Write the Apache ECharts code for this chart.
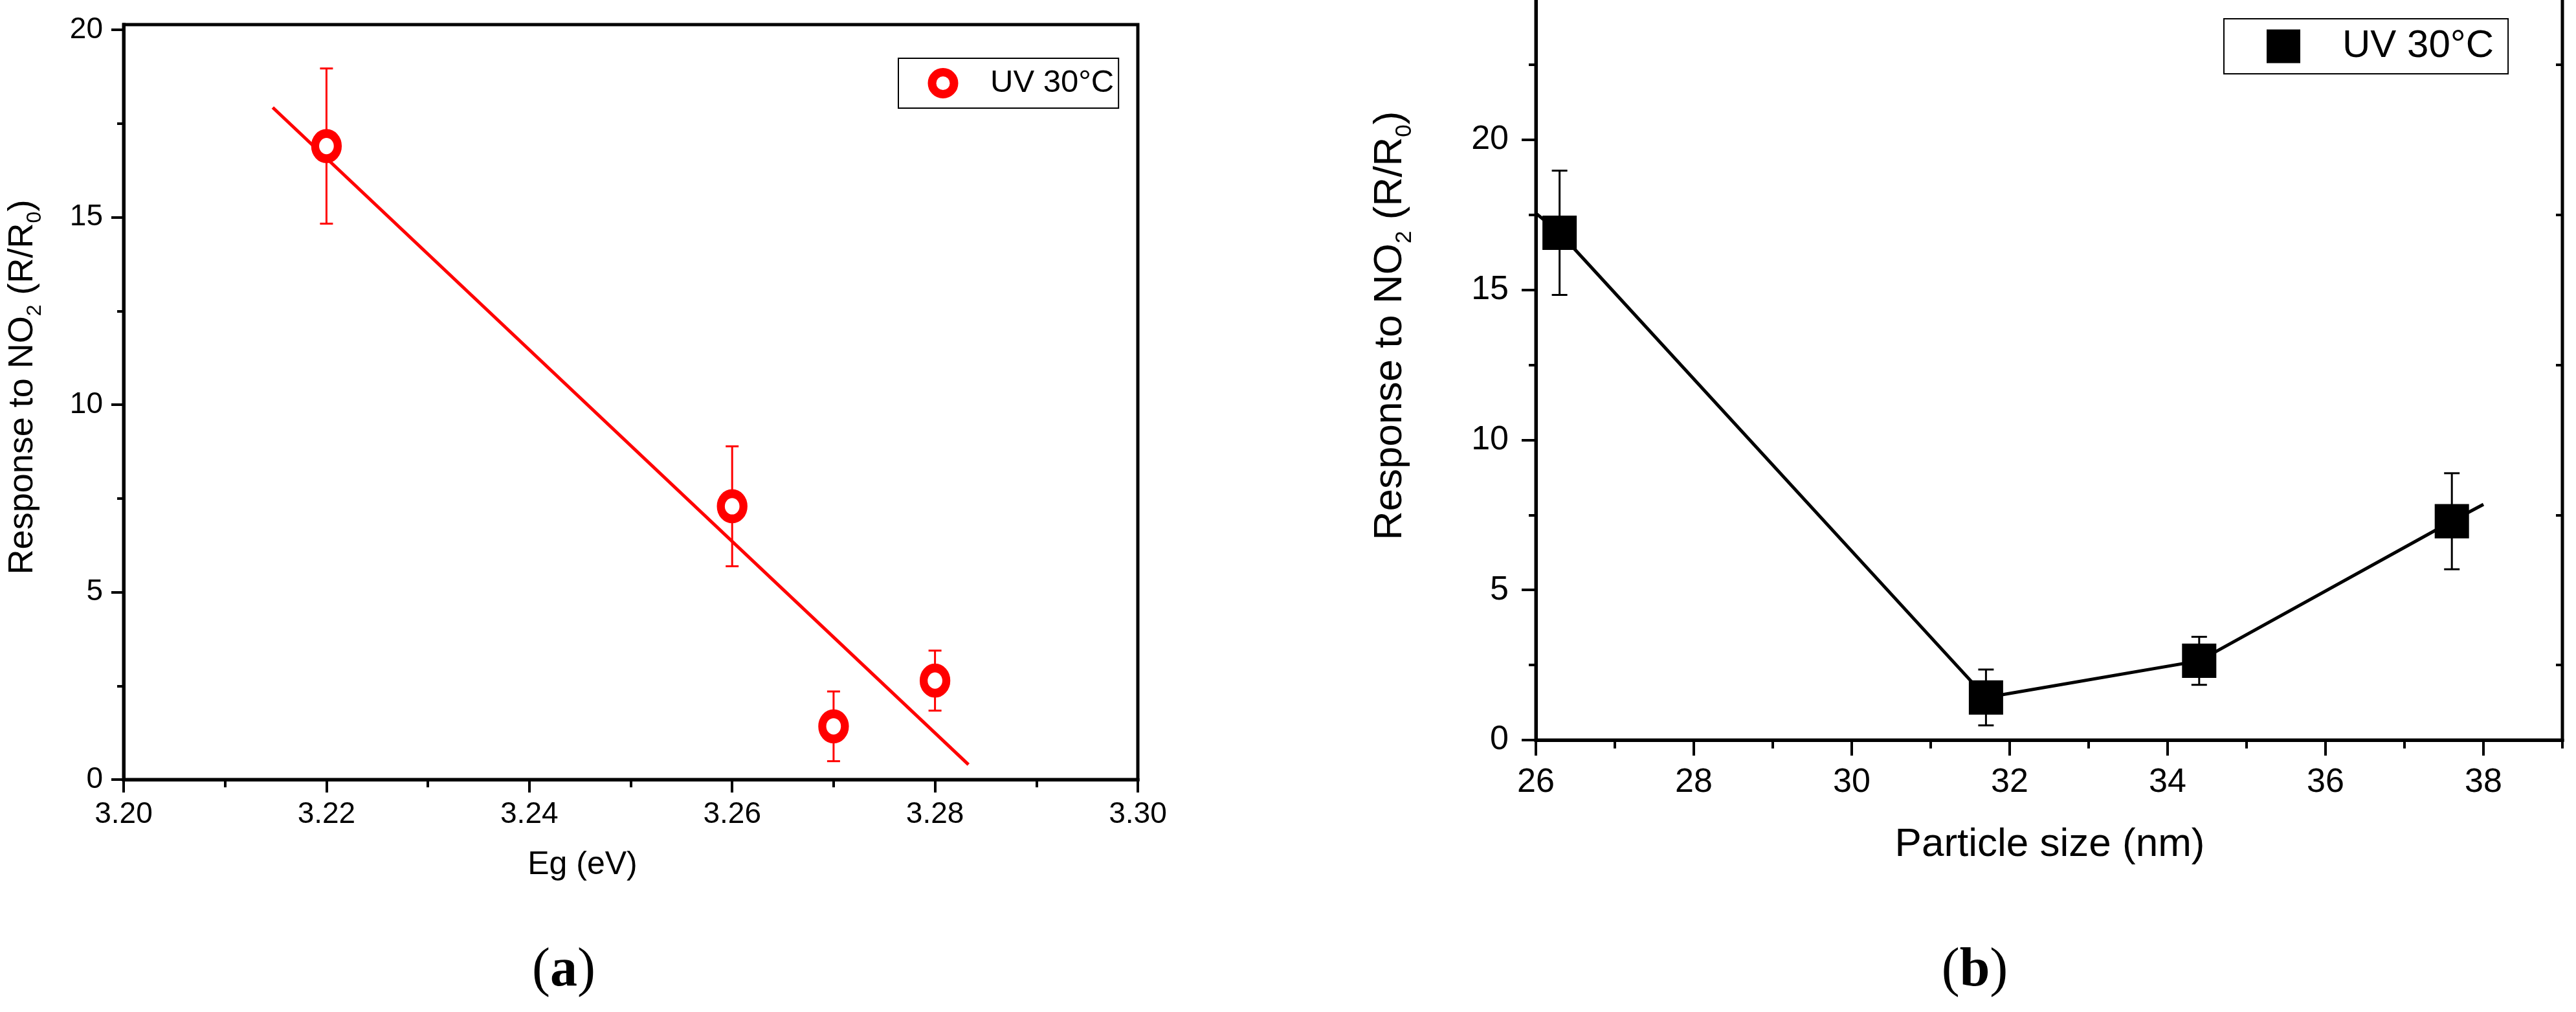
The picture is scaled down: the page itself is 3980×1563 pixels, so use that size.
<!DOCTYPE html>
<html>
<head>
<meta charset="utf-8">
<title>Response to NO2 vs Eg and particle size</title>
<script src="https://cdn.jsdelivr.net/npm/echarts@6/dist/echarts.min.js"></script>
<style>
html, body { margin: 0; padding: 0; background: #fff; }
#chart { width: 3980px; height: 1563px; }
</style>
</head>
<body>
<div id="chart"></div>
<script>
// samples (same films in both panels)
const bandGap = [3.22, 3.26, 3.27, 3.28];        // Eg (eV)
const particleSize = [26.3, 37.6, 31.7, 34.4];   // nm
const response = [16.9, 7.29, 1.42, 2.64];       // R/R0
const responseErr = [2.07, 1.6, 0.93, 0.8];

// linear fit of panel (a), end points
const fitEg = [3.2147, 3.2833];
const fitResponse = [17.93, 0.40];

// guide line of panel (b), ordered by particle size
const lineSize = [26.0, 26.3, 31.7, 34.4, 37.6, 38.0];
const lineResponse = [17.55, 16.9, 1.42, 2.64, 7.29, 7.85];

// ticks
const egTicks = [3.20, 3.22, 3.24, 3.26, 3.28, 3.30];
const egMinor = [3.21, 3.23, 3.25, 3.27, 3.29];
const respTicksA = [0, 5, 10, 15, 20];
const respMinorA = [2.5, 7.5, 12.5, 17.5];
const sizeTicks = [26, 28, 30, 32, 34, 36, 38];
const sizeMinor = [27, 29, 31, 33, 35, 37, 39];
const respTicksB = [0, 5, 10, 15, 20, 25];
const respMinorB = [2.5, 7.5, 12.5, 17.5, 22.5];

const legendName = 'UV 30°C';
const FONT = 'Liberation Sans, Arial, sans-serif';
const RED = '#ff0000';

const chart = echarts.init(document.getElementById('chart'));

const line = { color: '#000', width: 5, cap: 'square' };
const tick = { color: '#000', width: 4 };

function mainAxis(gridIndex, position, min, max, ticks, tickLen, fontSize, margin, fmt) {
  return {
    type: 'value', gridIndex, position, min, max,
    axisLine: { show: true, onZero: false, lineStyle: line },
    axisTick: { show: true, customValues: ticks, length: tickLen, lineStyle: tick },
    axisLabel: {
      customValues: ticks, fontSize, margin, color: '#000', fontFamily: FONT,
      formatter: fmt || (v => String(v))
    },
    splitLine: { show: false }
  };
}
// ticks only (minor ticks, inward ticks of the right frame)
function tickAxis(gridIndex, position, min, max, ticks, tickLen, inside) {
  return {
    type: 'value', gridIndex, position, min, max,
    axisLine: { show: false, onZero: false },
    axisTick: { show: true, inside: !!inside, customValues: ticks, length: tickLen, lineStyle: tick },
    axisLabel: { show: false },
    splitLine: { show: false }
  };
}

function errorBars(xs, color, halfCap, xi, yi) {
  return {
    type: 'custom', xAxisIndex: xi, yAxisIndex: yi, z: 3, silent: true,
    data: xs.map((x, i) => [x, response[i], responseErr[i]]),
    encode: { x: 0, y: 1 },
    renderItem(params, api) {
      const x = api.value(0), y = api.value(1), e = api.value(2);
      const top = api.coord([x, y + e]);
      const bot = api.coord([x, y - e]);
      const style = { stroke: color, lineWidth: 3 };
      return {
        type: 'group',
        children: [
          { type: 'line', shape: { x1: top[0], y1: top[1], x2: bot[0], y2: bot[1] }, style },
          { type: 'line', shape: { x1: top[0] - halfCap, y1: top[1], x2: top[0] + halfCap, y2: top[1] }, style },
          { type: 'line', shape: { x1: bot[0] - halfCap, y1: bot[1], x2: bot[0] + halfCap, y2: bot[1] }, style }
        ]
      };
    }
  };
}

function yTitle(x, y, size, sub, lh, subLh) {
  return {
    type: 'text', x, y, rotation: Math.PI / 2, silent: true,
    style: {
      text: '{m|Response to NO}{s|2}{m| (R/R}{s|0}{m|)}',
      align: 'center', verticalAlign: 'middle', fill: '#000',
      rich: {
        m: { fontSize: size, fontFamily: FONT, lineHeight: lh, fill: '#000' },
        s: { fontSize: sub, fontFamily: FONT, lineHeight: subLh, verticalAlign: 'bottom', fill: '#000' }
      }
    }
  };
}
function panelLabel(x, y, letter) {
  const serif = 'Liberation Serif, Times New Roman, serif';
  return {
    type: 'text', x, y, silent: true,
    style: {
      text: '{p|(}{b|' + letter + '}{p|)}',
      align: 'center', verticalAlign: 'middle', fill: '#000',
      rich: {
        p: { fontSize: 84, fontFamily: serif, fill: '#000' },
        b: { fontSize: 84, fontFamily: serif, fontWeight: 'bold', fill: '#000' }
      }
    }
  };
}

chart.setOption({
  backgroundColor: '#fff',
  animation: false,
  grid: [
    { left: 191, top: 38, width: 1567, height: 1166, outerBoundsMode: 'none',
      show: true, borderColor: '#000', borderWidth: 5 },
    { left: 2373, top: -16, width: 1586, height: 1159, outerBoundsMode: 'none',
      show: true, borderColor: '#000', borderWidth: 5 }
  ],
  xAxis: [
    mainAxis(0, 'bottom', 3.20, 3.30, egTicks, 20, 46, 31, v => v.toFixed(2)),
    tickAxis(0, 'bottom', 3.20, 3.30, egMinor, 12),
    mainAxis(1, 'bottom', 26, 39, sizeTicks, 24, 52, 40),
    tickAxis(1, 'bottom', 26, 39, sizeMinor, 13)
  ],
  yAxis: [
    mainAxis(0, 'left', 0, 20.14, respTicksA, 19, 46, 32),
    tickAxis(0, 'left', 0, 20.14, respMinorA, 10),
    mainAxis(1, 'left', 0, 25, respTicksB, 22, 52, 42),
    tickAxis(1, 'left', 0, 25, respMinorB, 11),
    tickAxis(1, 'right', 0, 25, respMinorB, 10, true)
  ],
  legend: [
    {
      data: [{ name: legendName, icon: 'circle', itemStyle: { color: '#fff', borderColor: RED, borderWidth: 13, opacity: 1 } }],
      left: 1388, top: 90, selectedMode: false,
      itemWidth: 34, itemHeight: 34,
      padding: [8.5, 7, 8.5, 45.5],
      borderColor: '#000', borderWidth: 2, backgroundColor: '#fff',
      textStyle: { fontFamily: FONT, fontSize: 49, lineHeight: 60, color: '#000', padding: [0, 0, 0, 51] }
    },
    {
      data: [{ name: legendName, icon: 'rect', itemStyle: { color: '#000', borderWidth: 0, opacity: 1 } }],
      left: 3436, top: 29, selectedMode: false,
      itemWidth: 52, itemHeight: 52,
      padding: [11.5, 22, 11.5, 66],
      borderColor: '#000', borderWidth: 2, backgroundColor: '#fff',
      textStyle: { fontFamily: FONT, fontSize: 60, lineHeight: 62, color: '#000', padding: [0, 0, 0, 60] }
    }
  ],
  series: [
    {
      type: 'line', xAxisIndex: 0, yAxisIndex: 0, z: 2, silent: true,
      data: fitEg.map((x, i) => [x, fitResponse[i]]),
      symbol: 'none', lineStyle: { color: RED, width: 5 }
    },
    errorBars(bandGap, RED, 10, 0, 0),
    {
      name: legendName, type: 'scatter', xAxisIndex: 0, yAxisIndex: 0, z: 4,
      data: bandGap.map((x, i) => [x, response[i]]),
      symbol: 'circle', symbolSize: [35, 39],
      itemStyle: { color: '#fff', borderColor: RED, borderWidth: 13, opacity: 1 }
    },
    {
      type: 'line', xAxisIndex: 2, yAxisIndex: 2, z: 2, silent: true,
      data: lineSize.map((x, i) => [x, lineResponse[i]]),
      symbol: 'none', lineStyle: { color: '#000', width: 5 }
    },
    errorBars(particleSize, '#000', 12, 2, 2),
    {
      name: legendName, type: 'scatter', xAxisIndex: 2, yAxisIndex: 2, z: 4,
      data: particleSize.map((x, i) => [x, response[i]]),
      symbol: 'rect', symbolSize: 53,
      itemStyle: { color: '#000', opacity: 1 }
    }
  ],
  graphic: [
    yTitle(35, 598, 54, 32, 70, 14),
    yTitle(2148, 503, 62, 35, 80, 16),
    { type: 'text', x: 900, y: 1336, silent: true,
      style: { text: 'Eg (eV)', fontSize: 50, fontFamily: FONT, fill: '#000', align: 'center', verticalAlign: 'middle' } },
    { type: 'text', x: 3167, y: 1305, silent: true,
      style: { text: 'Particle size (nm)', fontSize: 62, fontFamily: FONT, fill: '#000', align: 'center', verticalAlign: 'middle' } },
    panelLabel(871, 1500, 'a'),
    panelLabel(3051, 1500, 'b')
  ]
});
</script>
</body>
</html>
